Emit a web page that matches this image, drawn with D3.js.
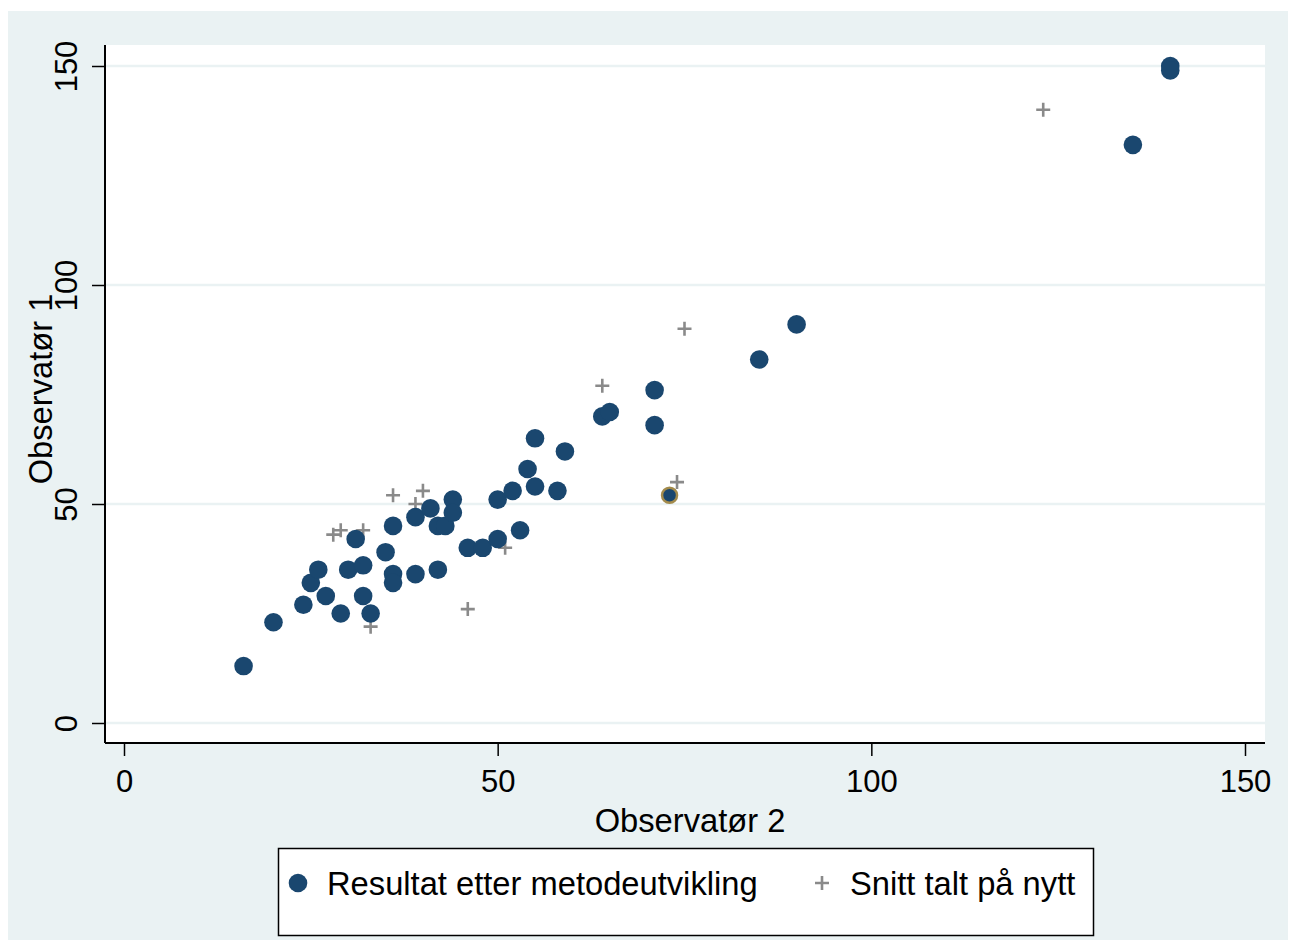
<!DOCTYPE html>
<html>
<head>
<meta charset="utf-8">
<style>
  body { margin: 0; background: #fff; }
  text { font-family: "Liberation Sans", Arial, Helvetica, sans-serif; fill: #000; }
</style>
</head>
<body>
<svg id="svg1" width="1290" height="942"></svg>
<script src="https://cdnjs.cloudflare.com/ajax/libs/d3/7.8.5/d3.min.js"></script>
<script>

// Resultat etter metodeutvikling (Observatør 2, Observatør 1)
var resX = [16, 20, 24, 25, 26, 27, 29, 30, 31, 32, 32, 33, 35, 36, 36, 36, 39, 39, 41, 42, 43, 42, 44, 44, 46, 48, 50, 50, 52, 53, 54, 55, 55, 58, 59, 64, 65, 71, 71, 85, 90, 135, 140, 140];
var resY = [13, 23, 27, 32, 35, 29, 25, 35, 42, 36, 29, 25, 39, 45, 34, 32, 47, 34, 49, 45, 45, 35, 51, 48, 40, 40, 51, 42, 53, 44, 58, 65, 54, 53, 62, 70, 71, 76, 68, 83, 91, 132, 150, 149];

// highlighted point (outlined)
var hlX = [73];
var hlY = [52];

// Snitt talt på nytt
var snittX = [28, 29, 32, 33, 36, 39, 40, 46, 51, 64, 74, 75, 123];
var snittY = [43, 44, 44, 22, 52, 50, 53, 26, 40, 77, 55, 90, 140];

var xTicks = [0, 50, 100, 150],
    yTicks = [0, 50, 100, 150];

var legendLabels = ["Resultat etter metodeutvikling", "Snitt talt på nytt"];

var svg = d3.select("#svg1"),
    width = +svg.attr("width"),
    height = +svg.attr("height");

var navy = "#1a476f", gray = "#8a8a8a", bg = "#eaf2f3";

var plot = {left: 105, right: 1265, top: 45, bottom: 743};

var x = d3.scaleLinear().domain([0, 150]).range([124, 1245]),
    y = d3.scaleLinear().domain([0, 150]).range([723, 66]);

// outer background
svg.append("rect")
    .attr("x", 8).attr("y", 11)
    .attr("width", 1280).attr("height", 929)
    .attr("fill", bg);

// plot region
svg.append("rect")
    .attr("x", plot.left).attr("y", plot.top)
    .attr("width", plot.right - plot.left)
    .attr("height", plot.bottom - plot.top)
    .attr("fill", "#fff");

// gridlines
svg.append("g")
  .selectAll("line")
  .data(yTicks)
  .enter().append("line")
    .attr("x1", plot.left).attr("x2", plot.right)
    .attr("y1", function(d) { return y(d); })
    .attr("y2", function(d) { return y(d); })
    .attr("stroke", bg)
    .attr("stroke-width", 2.5);

// x axis
var xAxis = svg.append("g")
    .attr("transform", "translate(0," + plot.bottom + ")")
    .call(d3.axisBottom(x).tickValues(xTicks).tickSize(13).tickPadding(14).tickSizeOuter(0));
xAxis.select(".domain").attr("d", "M" + plot.left + ",0H" + plot.right).attr("stroke-width", 2);
xAxis.selectAll(".tick line").attr("stroke-width", 1.5);
xAxis.selectAll(".tick text").attr("font-size", 31).attr("font-family", null);

// y axis
var yAxis = svg.append("g")
    .attr("transform", "translate(" + plot.left + ",0)")
    .call(d3.axisLeft(y).tickValues(yTicks).tickSize(13).tickSizeOuter(0));
yAxis.select(".domain").attr("d", "M0," + plot.top + "V" + plot.bottom).attr("stroke-width", 2);
yAxis.selectAll(".tick line").attr("stroke-width", 1.5);
yAxis.selectAll(".tick text")
    .attr("font-size", 31).attr("font-family", null)
    .attr("x", 0).attr("y", 0).attr("dy", 0)
    .attr("text-anchor", "middle")
    .attr("transform", "translate(-28,0) rotate(-90)");

// axis titles
svg.append("text")
    .attr("x", 690).attr("y", 832)
    .attr("text-anchor", "middle")
    .attr("font-size", 32.7)
    .text("Observatør 2");

svg.append("text")
    .attr("text-anchor", "middle")
    .attr("font-size", 32.7)
    .attr("transform", "translate(52," + 389 + ") rotate(-90)")
    .text("Observatør 1");

var cross = "M-7,0H7M0,-7V7";

// Snitt talt på nytt
svg.append("g")
  .selectAll("path")
  .data(snittX.map(function(d, i) { return [d, snittY[i]]; }))
  .enter().append("path")
    .attr("transform", function(d) { return "translate(" + x(d[0]) + "," + y(d[1]) + ")"; })
    .attr("d", cross)
    .attr("stroke", gray)
    .attr("stroke-width", 2.6)
    .attr("fill", "none");

// Resultat etter metodeutvikling
svg.append("g")
  .selectAll("circle")
  .data(resX.map(function(d, i) { return [d, resY[i]]; }))
  .enter().append("circle")
    .attr("cx", function(d) { return x(d[0]); })
    .attr("cy", function(d) { return y(d[1]); })
    .attr("r", 9.3)
    .attr("fill", navy);

svg.append("g")
  .selectAll("circle")
  .data(hlX.map(function(d, i) { return [d, hlY[i]]; }))
  .enter().append("circle")
    .attr("cx", function(d) { return x(d[0]); })
    .attr("cy", function(d) { return y(d[1]); })
    .attr("r", 7.5)
    .attr("fill", navy)
    .attr("stroke", "#a38b4c")
    .attr("stroke-width", 2.5);

// legend
var legend = svg.append("g");
legend.append("rect")
    .attr("x", 278.5).attr("y", 848.5)
    .attr("width", 815).attr("height", 87)
    .attr("fill", "#fff")
    .attr("stroke", "#000")
    .attr("stroke-width", 1.5);

legend.append("circle")
    .attr("cx", 298).attr("cy", 883)
    .attr("r", 9.3)
    .attr("fill", navy);
legend.append("text")
    .attr("x", 327).attr("y", 895)
    .attr("font-size", 32.7)
    .text(legendLabels[0]);

legend.append("path")
    .attr("transform", "translate(822,883)")
    .attr("d", cross)
    .attr("stroke", gray)
    .attr("stroke-width", 2.6)
    .attr("fill", "none");
legend.append("text")
    .attr("x", 850).attr("y", 895)
    .attr("font-size", 32.7)
    .text(legendLabels[1]);

</script>
</body>
</html>
